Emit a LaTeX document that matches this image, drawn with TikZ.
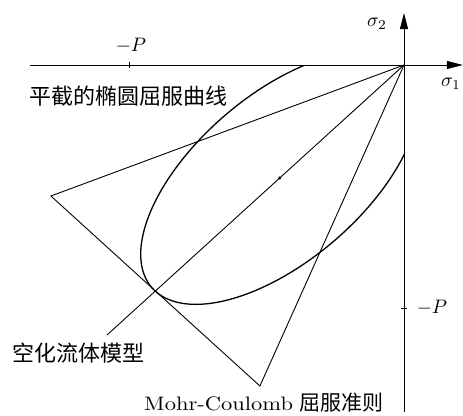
\documentclass[tikz,border=0pt]{standalone}
\usepackage{graphicx}
\usepackage{fontspec}
\newfontfamily\cjk{Noto Sans CJK SC}
\usetikzlibrary{arrows.meta}
\newcommand{\bigmath}[1]{\scalebox{1.95}{$#1$}}
\tikzset{
  axisline/.style={line width=0.9pt, -{Triangle[length=16pt,width=8pt]}},
  thinline/.style={line width=0.9pt},
  curveline/.style={line width=1.3pt},
  mathlbl/.style={inner sep=0pt},
  textlbl/.style={inner sep=0pt, anchor=west, font=\fontsize{22}{24}\selectfont},
}
\begin{document}
\begin{tikzpicture}[x=1pt,y=1pt]
\useasboundingbox (0,0) rectangle (463,-415);
\begin{scope}[shift={(404,-65)}, x=1.1pt, y=1pt]
  \coordinate (O) at (0,0);
  \coordinate (A) at (-321,-131);
  \coordinate (B) at (-131,-321);
  \coordinate (D) at (-270,-270);
  \coordinate (C) at (-113,-113);
  \coordinate (Xl) at (-340,0);
  \coordinate (Xr) at (53.5,0);
  \coordinate (Yb) at (0,-347);
  \coordinate (Yt) at (0,52);
  \coordinate (Tx) at (-250,0);
  \coordinate (Ty) at (0,-243);
  % axes
  \draw[axisline] (Xl) -- (Xr);
  \draw[axisline] (Yb) -- (Yt);
  % ticks
  \draw[thinline] ([yshift=-3pt]Tx) -- ([yshift=3pt]Tx);
  \draw[thinline] ([xshift=-3pt]Ty) -- ([xshift=3pt]Ty);
  % truncated ellipse
  \begin{scope}
    \clip (-400,-400) rectangle (0,0);
    \draw[curveline] plot[domain=0:360, samples=240, smooth, variable=\t]
      ({-113+(160*cos(\t)+79.6*sin(\t))*0.7071},{-113+(160*cos(\t)-79.6*sin(\t))*0.7071});
  \end{scope}
  % Mohr-Coulomb
  \draw[thinline, line join=miter] (O) -- (A) -- (B) -- cycle;
  % cavitation line
  \draw[thinline] (O) -- (D);
  \fill (C) circle (1.7pt);
\end{scope}
\node[mathlbl] (lp1) at (131,-46) {\bigmath{-P}};
\node[mathlbl] (s2) at (377,-24) {\bigmath{\sigma_2}};
\node[mathlbl] (s1) at (451,-84) {\bigmath{\sigma_1}};
\node[mathlbl] (lp2) at (432,-308) {\bigmath{-P}};
\node[textlbl] (t1) at (29,-96) {\cjk 平截的椭圆屈服曲线};
\node[textlbl] (t2) at (12,-353) {\cjk 空化流体模型};
\node[textlbl] (t3) at (144,-402.5) {{\fontsize{10}{12}\selectfont\scalebox{2.25}[1.95]{Mohr-Coulomb}}\hspace{6pt}{\fontsize{21}{24}\selectfont\cjk 屈服准则}};
\end{tikzpicture}
\end{document}
